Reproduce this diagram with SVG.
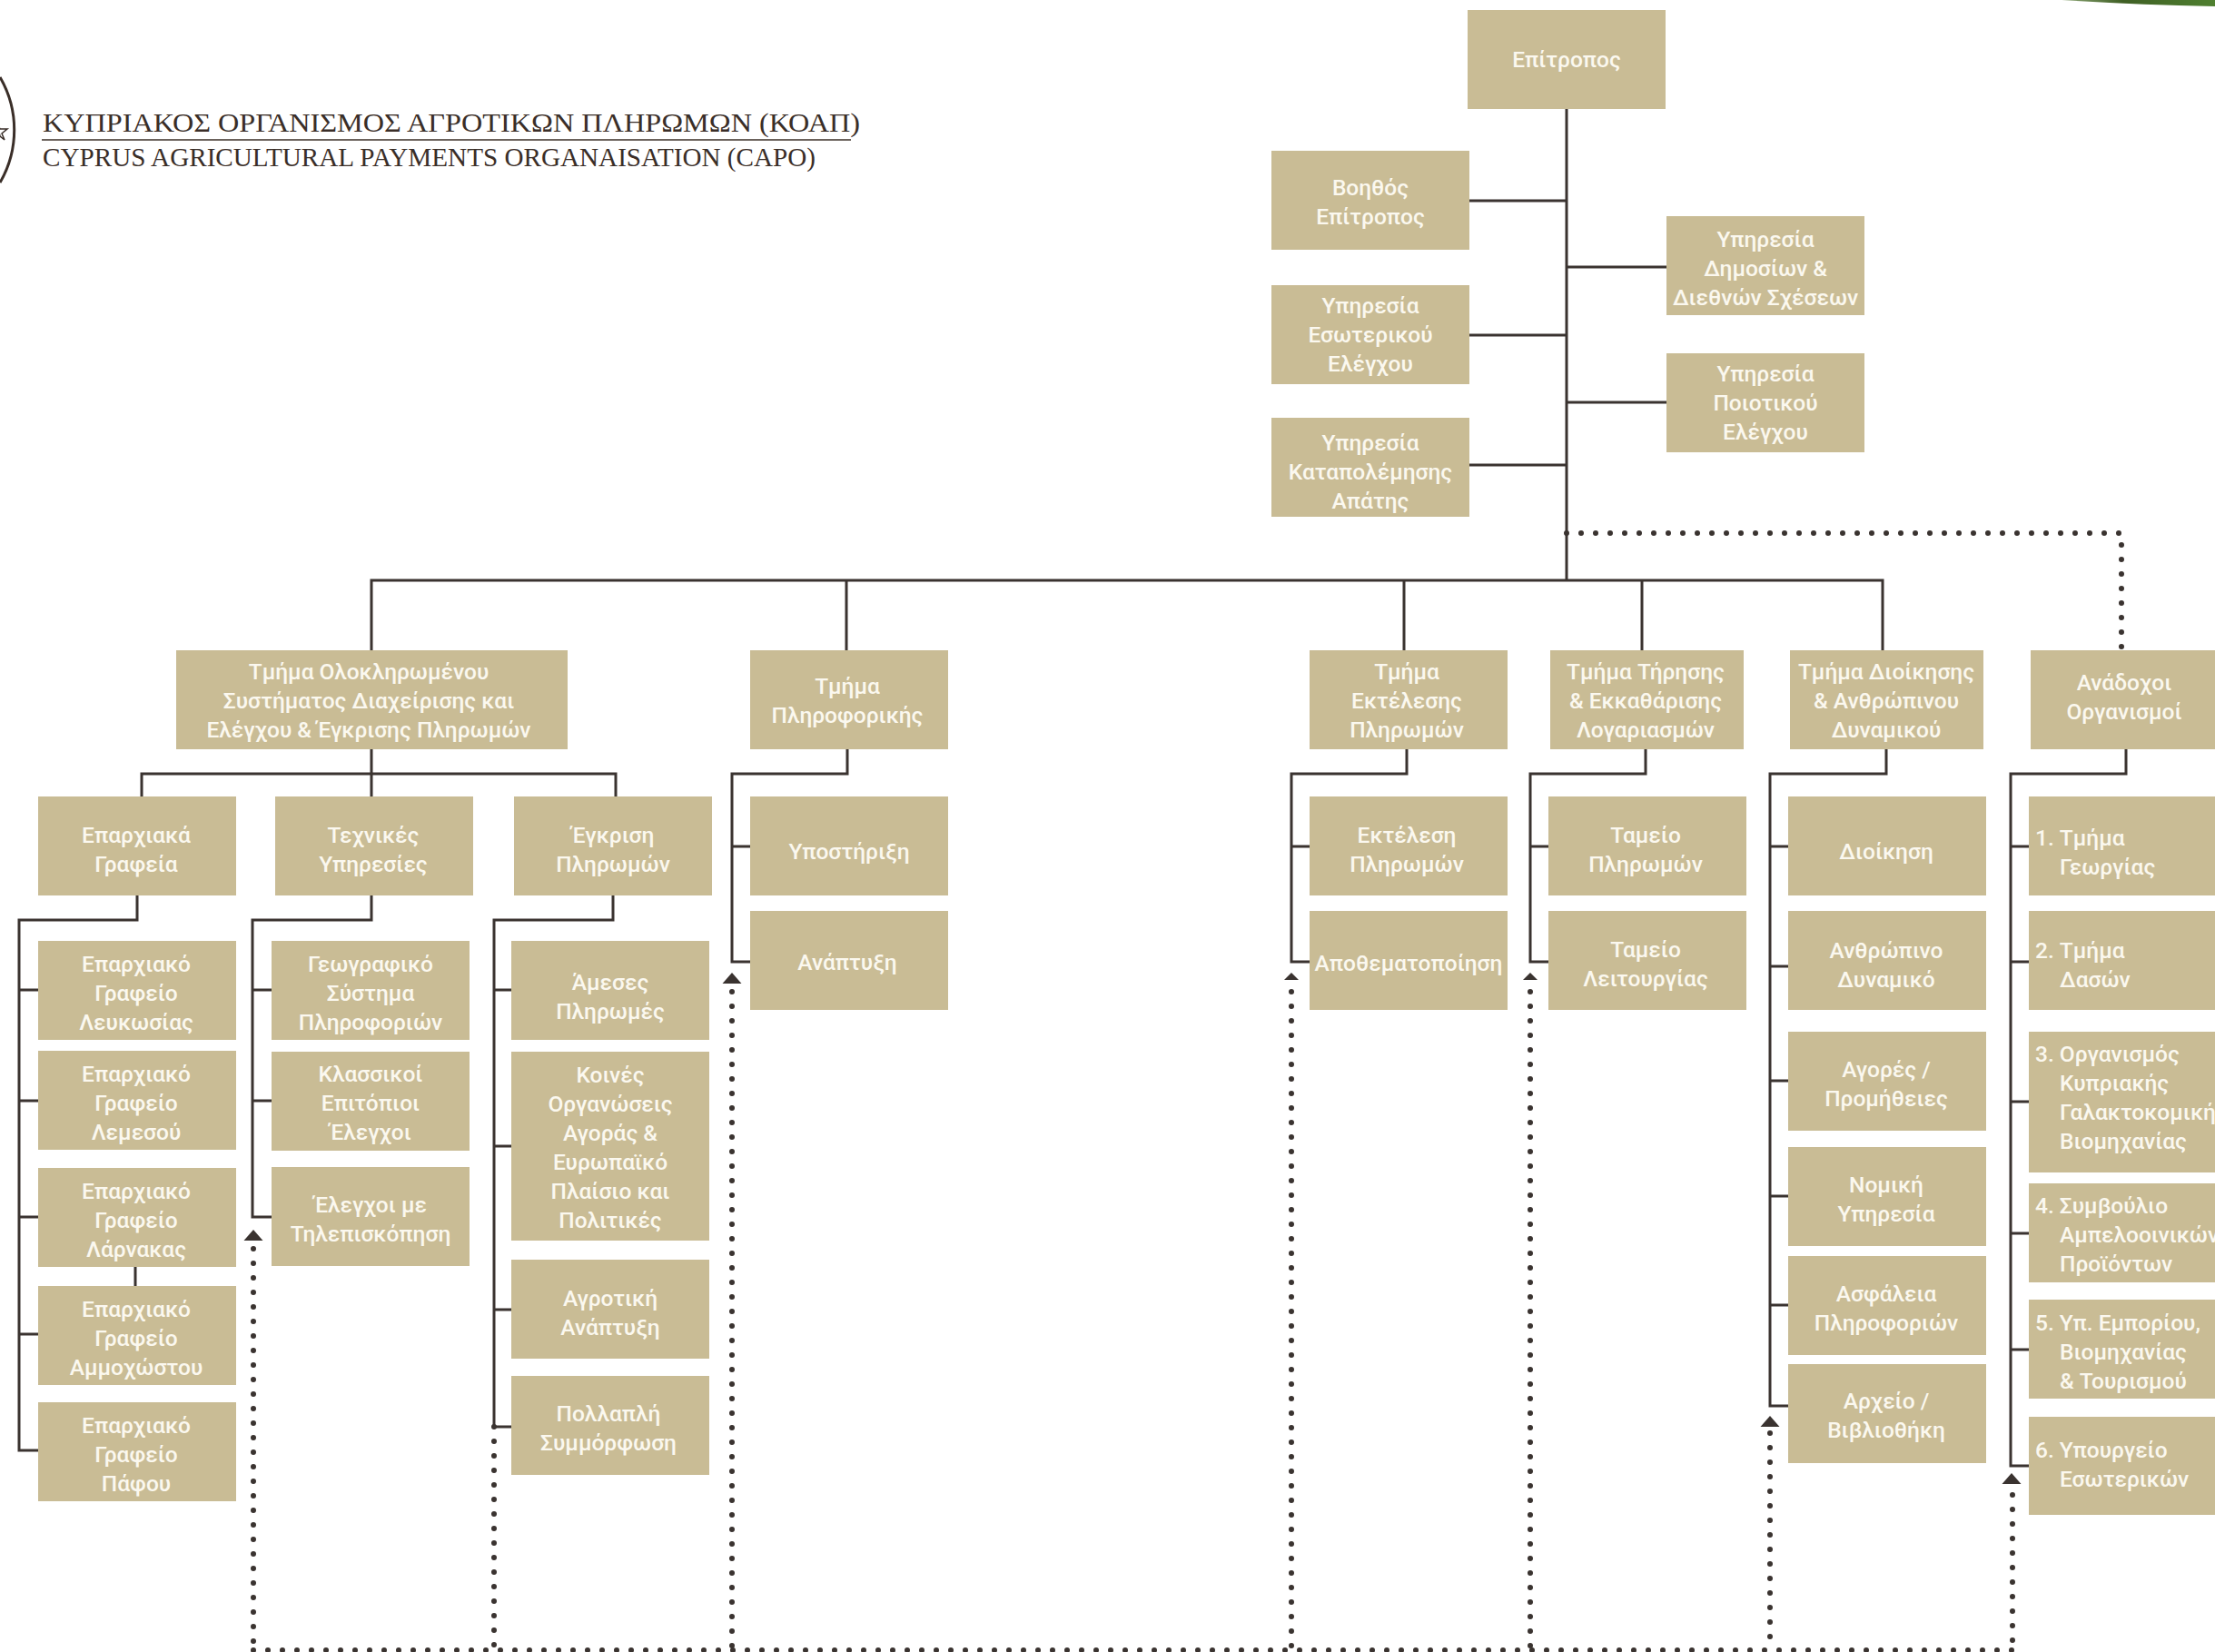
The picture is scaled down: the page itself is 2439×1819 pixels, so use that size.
<svg xmlns="http://www.w3.org/2000/svg" xmlns:xlink="http://www.w3.org/1999/xlink" width="2439" height="1819" viewBox="0 0 2439 1819">
<style>
.b{fill:#c9bc95}
.t{font-family:"Roboto","Liberation Sans",sans-serif;font-size:24.5px;font-weight:500;fill:#fbf8ef;text-anchor:middle}
.l{font-family:"Roboto","Liberation Sans",sans-serif;font-size:24.5px;font-weight:500;fill:#fbf8ef;text-anchor:start}
.s{fill:none;stroke:#3a3330;stroke-width:3}
.d{fill:none;stroke:#3a3330;stroke-width:6;stroke-linecap:round;stroke-dasharray:0 16}
.h{font-family:"Liberation Serif",serif;font-size:29px;fill:#3a2e28}
</style>
<defs>
<linearGradient id="grn" x1="0" x2="1" y1="0" y2="0"><stop offset="0" stop-color="#8fa878"/><stop offset="0.4" stop-color="#3f5f24"/><stop offset="1" stop-color="#4f8030"/></linearGradient>
<path id="ah" d="M0 -6 L10.5 6 L-10.5 6 Z" fill="#3a3330"/>
<path id="ah2" d="M0 -4 L8 4 L-8 4 Z" fill="#3a3330"/>
</defs>
<rect width="2439" height="1819" fill="#fff"/>
<g id="header">
<path d="M2270 0 L2439 0 L2439 7 Q2350 5 2270 0 Z" fill="url(#grn)"/>
<path d="M0 85 A115 115 0 0 1 0 201" fill="none" stroke="#3a2e28" stroke-width="3"/>
<path d="M-3 136 L0 142 L8 142 L2 147 L5 154 L0 150 Z" fill="none" stroke="#3a2e28" stroke-width="1.5"/>
<text class="h" x="47" y="145" textLength="900" lengthAdjust="spacingAndGlyphs">ΚΥΠΡΙΑΚΟΣ ΟΡΓΑΝΙΣΜΟΣ ΑΓΡΟΤΙΚΩΝ ΠΛΗΡΩΜΩΝ (ΚΟΑΠ)</text>
<line x1="46" y1="154" x2="937" y2="154" stroke="#6b625c" stroke-width="2"/>
<text class="h" x="47" y="183" textLength="851" lengthAdjust="spacingAndGlyphs">CYPRUS AGRICULTURAL PAYMENTS ORGANAISATION (CAPO)</text>
</g>
<g id="connectors">
<path class="s" d="M1725 120V639M1618 221H1725M1618 369H1725M1618 512H1725M1725 294H1835M1725 443H1835M409 716V639H2073V716M932 639V716M1546 639V716M1808 639V716"/>
<path class="s" d="M409 825V877M156 877V852H678V877"/>
<path class="s" d="M151 986V1013H21V1597H42M21 1090H42M21 1212H42M21 1340H42M21 1469H42M149 1395V1416"/>
<path class="s" d="M409 986V1013H278V1340H299M278 1090H299M278 1212H299"/>
<path class="s" d="M675 986V1013H544V1571H563M544 1090H563M544 1262H563M544 1442H563"/>
<path class="s" d="M933 825V852H806V1059H826M806 932H826"/>
<path class="s" d="M1549 825V852H1422V1059H1442M1422 932H1442"/>
<path class="s" d="M1812 825V852H1685V1059H1705M1685 932H1705"/>
<path class="s" d="M2077 825V852H1949V1548H1969M1949 932H1969M1949 1064H1969M1949 1190H1969M1949 1317H1969M1949 1437H1969"/>
<path class="s" d="M2341 825V852H2214V1614H2234M2214 932H2234M2214 1059H2234M2214 1213H2234M2214 1358H2234M2214 1486H2234"/>
<path class="d" d="M1725 587H2336V716"/>
<path class="d" d="M279 1817H2216"/>
<path class="d" d="M279 1375V1817"/>
<path class="d" d="M544 1571V1817"/>
<path class="d" d="M806 1092V1817"/>
<path class="d" d="M1422 1092V1817"/>
<path class="d" d="M1685 1092V1817"/>
<path class="d" d="M1949 1578V1817"/>
<path class="d" d="M2216 1646V1817"/>
<use xlink:href="#ah" x="279" y="1360"/>
<use xlink:href="#ah" x="806" y="1077"/>
<use xlink:href="#ah2" x="1422" y="1075"/>
<use xlink:href="#ah2" x="1685" y="1075"/>
<use xlink:href="#ah" x="1949" y="1565"/>
<use xlink:href="#ah" x="2215" y="1628"/>
</g>
<g id="n-epitropos"><rect class="b" x="1616" y="11" width="218" height="109"/><text class="t" y="74"><tspan x="1725">Επίτροπος</tspan></text></g>
<g id="n-voithos"><rect class="b" x="1400" y="166" width="218" height="109"/><text class="t" y="215"><tspan x="1509">Βοηθός</tspan><tspan x="1509" dy="32">Επίτροπος</tspan></text></g>
<g id="n-esoterikos"><rect class="b" x="1400" y="314" width="218" height="109"/><text class="t" y="345"><tspan x="1509">Υπηρεσία</tspan><tspan x="1509" dy="32">Εσωτερικού</tspan><tspan x="1509" dy="32">Ελέγχου</tspan></text></g>
<g id="n-apati"><rect class="b" x="1400" y="460" width="218" height="109"/><text class="t" y="496"><tspan x="1509">Υπηρεσία</tspan><tspan x="1509" dy="32">Καταπολέμησης</tspan><tspan x="1509" dy="32">Απάτης</tspan></text></g>
<g id="n-dimosion"><rect class="b" x="1835" y="238" width="218" height="109"/><text class="t" y="272"><tspan x="1944">Υπηρεσία</tspan><tspan x="1944" dy="32">Δημοσίων &amp;</tspan><tspan x="1944" dy="32">Διεθνών Σχέσεων</tspan></text></g>
<g id="n-poiotikou"><rect class="b" x="1835" y="389" width="218" height="109"/><text class="t" y="420"><tspan x="1944">Υπηρεσία</tspan><tspan x="1944" dy="32">Ποιοτικού</tspan><tspan x="1944" dy="32">Ελέγχου</tspan></text></g>
<g id="n-olokl"><rect class="b" x="194" y="716" width="431" height="109"/><text class="t" y="748"><tspan x="406">Τμήμα Ολοκληρωμένου</tspan><tspan x="406" dy="32">Συστήματος Διαχείρισης και</tspan><tspan x="406" dy="32">Ελέγχου &amp; Έγκρισης Πληρωμών</tspan></text></g>
<g id="n-plirof"><rect class="b" x="826" y="716" width="218" height="109"/><text class="t" y="764"><tspan x="933">Τμήμα</tspan><tspan x="933" dy="32">Πληροφορικής</tspan></text></g>
<g id="n-ektelesis"><rect class="b" x="1442" y="716" width="218" height="109"/><text class="t" y="748"><tspan x="1549">Τμήμα</tspan><tspan x="1549" dy="32">Εκτέλεσης</tspan><tspan x="1549" dy="32">Πληρωμών</tspan></text></g>
<g id="n-tirisis"><rect class="b" x="1707" y="716" width="213" height="109"/><text class="t" y="748"><tspan x="1812">Τμήμα Τήρησης</tspan><tspan x="1812" dy="32">&amp; Εκκαθάρισης</tspan><tspan x="1812" dy="32">Λογαριασμών</tspan></text></g>
<g id="n-dioikisis"><rect class="b" x="1971" y="716" width="213" height="109"/><text class="t" y="748"><tspan x="2077">Τμήμα Διοίκησης</tspan><tspan x="2077" dy="32">&amp; Ανθρώπινου</tspan><tspan x="2077" dy="32">Δυναμικού</tspan></text></g>
<g id="n-anadochoi"><rect class="b" x="2236" y="716" width="203" height="109"/><text class="t" y="760"><tspan x="2339">Ανάδοχοι</tspan><tspan x="2339" dy="32">Οργανισμοί</tspan></text></g>
<g id="n-eparchiaka"><rect class="b" x="42" y="877" width="218" height="109"/><text class="t" y="928"><tspan x="150">Επαρχιακά</tspan><tspan x="150" dy="32">Γραφεία</tspan></text></g>
<g id="n-technikes"><rect class="b" x="303" y="877" width="218" height="109"/><text class="t" y="928"><tspan x="411">Τεχνικές</tspan><tspan x="411" dy="32">Υπηρεσίες</tspan></text></g>
<g id="n-egkrisi"><rect class="b" x="566" y="877" width="218" height="109"/><text class="t" y="928"><tspan x="675">Έγκριση</tspan><tspan x="675" dy="32">Πληρωμών</tspan></text></g>
<g id="n-lefkosia"><rect class="b" x="42" y="1036" width="218" height="109"/><text class="t" y="1070"><tspan x="150">Επαρχιακό</tspan><tspan x="150" dy="32">Γραφείο</tspan><tspan x="150" dy="32">Λευκωσίας</tspan></text></g>
<g id="n-lemesos"><rect class="b" x="42" y="1157" width="218" height="109"/><text class="t" y="1191"><tspan x="150">Επαρχιακό</tspan><tspan x="150" dy="32">Γραφείο</tspan><tspan x="150" dy="32">Λεμεσού</tspan></text></g>
<g id="n-larnaka"><rect class="b" x="42" y="1286" width="218" height="109"/><text class="t" y="1320"><tspan x="150">Επαρχιακό</tspan><tspan x="150" dy="32">Γραφείο</tspan><tspan x="150" dy="32">Λάρνακας</tspan></text></g>
<g id="n-ammochostos"><rect class="b" x="42" y="1416" width="218" height="109"/><text class="t" y="1450"><tspan x="150">Επαρχιακό</tspan><tspan x="150" dy="32">Γραφείο</tspan><tspan x="150" dy="32">Αμμοχώστου</tspan></text></g>
<g id="n-pafos"><rect class="b" x="42" y="1544" width="218" height="109"/><text class="t" y="1578"><tspan x="150">Επαρχιακό</tspan><tspan x="150" dy="32">Γραφείο</tspan><tspan x="150" dy="32">Πάφου</tspan></text></g>
<g id="n-geo"><rect class="b" x="299" y="1036" width="218" height="109"/><text class="t" y="1070"><tspan x="408">Γεωγραφικό</tspan><tspan x="408" dy="32">Σύστημα</tspan><tspan x="408" dy="32">Πληροφοριών</tspan></text></g>
<g id="n-klassikoi"><rect class="b" x="299" y="1158" width="218" height="109"/><text class="t" y="1191"><tspan x="408">Κλασσικοί</tspan><tspan x="408" dy="32">Επιτόπιοι</tspan><tspan x="408" dy="32">Έλεγχοι</tspan></text></g>
<g id="n-tile"><rect class="b" x="299" y="1285" width="218" height="109"/><text class="t" y="1335"><tspan x="408">Έλεγχοι με</tspan><tspan x="408" dy="32">Τηλεπισκόπηση</tspan></text></g>
<g id="n-ameses"><rect class="b" x="563" y="1036" width="218" height="109"/><text class="t" y="1090"><tspan x="672">Άμεσες</tspan><tspan x="672" dy="32">Πληρωμές</tspan></text></g>
<g id="n-koines"><rect class="b" x="563" y="1158" width="218" height="208"/><text class="t" y="1192"><tspan x="672">Κοινές</tspan><tspan x="672" dy="32">Οργανώσεις</tspan><tspan x="672" dy="32">Αγοράς &amp;</tspan><tspan x="672" dy="32">Ευρωπαϊκό</tspan><tspan x="672" dy="32">Πλαίσιο και</tspan><tspan x="672" dy="32">Πολιτικές</tspan></text></g>
<g id="n-agrotiki"><rect class="b" x="563" y="1387" width="218" height="109"/><text class="t" y="1438"><tspan x="672">Αγροτική</tspan><tspan x="672" dy="32">Ανάπτυξη</tspan></text></g>
<g id="n-pollapli"><rect class="b" x="563" y="1515" width="218" height="109"/><text class="t" y="1565"><tspan x="670">Πολλαπλή</tspan><tspan x="670" dy="32">Συμμόρφωση</tspan></text></g>
<g id="n-ypostirixi"><rect class="b" x="826" y="877" width="218" height="109"/><text class="t" y="946"><tspan x="935">Υποστήριξη</tspan></text></g>
<g id="n-anaptyxi"><rect class="b" x="826" y="1003" width="218" height="109"/><text class="t" y="1068"><tspan x="933">Ανάπτυξη</tspan></text></g>
<g id="n-ektelesi"><rect class="b" x="1442" y="877" width="218" height="109"/><text class="t" y="928"><tspan x="1549">Εκτέλεση</tspan><tspan x="1549" dy="32">Πληρωμών</tspan></text></g>
<g id="n-apothema"><rect class="b" x="1442" y="1003" width="218" height="109"/><text class="t" y="1069"><tspan x="1551">Αποθεματοποίηση</tspan></text></g>
<g id="n-tameio1"><rect class="b" x="1705" y="877" width="218" height="109"/><text class="t" y="928"><tspan x="1812">Ταμείο</tspan><tspan x="1812" dy="32">Πληρωμών</tspan></text></g>
<g id="n-tameio2"><rect class="b" x="1705" y="1003" width="218" height="109"/><text class="t" y="1054"><tspan x="1812">Ταμείο</tspan><tspan x="1812" dy="32">Λειτουργίας</tspan></text></g>
<g id="n-dioikisi"><rect class="b" x="1969" y="877" width="218" height="109"/><text class="t" y="946"><tspan x="2077">Διοίκηση</tspan></text></g>
<g id="n-anthropino"><rect class="b" x="1969" y="1003" width="218" height="109"/><text class="t" y="1055"><tspan x="2077">Ανθρώπινο</tspan><tspan x="2077" dy="32">Δυναμικό</tspan></text></g>
<g id="n-agores"><rect class="b" x="1969" y="1136" width="218" height="109"/><text class="t" y="1186"><tspan x="2077">Αγορές /</tspan><tspan x="2077" dy="32">Προμήθειες</tspan></text></g>
<g id="n-nomiki"><rect class="b" x="1969" y="1263" width="218" height="109"/><text class="t" y="1313"><tspan x="2077">Νομική</tspan><tspan x="2077" dy="32">Υπηρεσία</tspan></text></g>
<g id="n-asfaleia"><rect class="b" x="1969" y="1383" width="218" height="109"/><text class="t" y="1433"><tspan x="2077">Ασφάλεια</tspan><tspan x="2077" dy="32">Πληροφοριών</tspan></text></g>
<g id="n-archeio"><rect class="b" x="1969" y="1502" width="218" height="109"/><text class="t" y="1551"><tspan x="2077">Αρχείο /</tspan><tspan x="2077" dy="32">Βιβλιοθήκη</tspan></text></g>
<g id="n-a1"><rect class="b" x="2234" y="877" width="205" height="109"/><text class="l" y="931"><tspan x="2241">1. Τμήμα</tspan><tspan x="2268" dy="32">Γεωργίας</tspan></text></g>
<g id="n-a2"><rect class="b" x="2234" y="1003" width="205" height="109"/><text class="l" y="1055"><tspan x="2241">2. Τμήμα</tspan><tspan x="2268" dy="32">Δασών</tspan></text></g>
<g id="n-a3"><rect class="b" x="2234" y="1136" width="205" height="155"/><text class="l" y="1169"><tspan x="2241">3. Οργανισμός</tspan><tspan x="2268" dy="32">Κυπριακής</tspan><tspan x="2268" dy="32">Γαλακτοκομικής</tspan><tspan x="2268" dy="32">Βιομηχανίας</tspan></text></g>
<g id="n-a4"><rect class="b" x="2234" y="1303" width="205" height="109"/><text class="l" y="1336"><tspan x="2241">4. Συμβούλιο</tspan><tspan x="2268" dy="32">Αμπελοοινικών</tspan><tspan x="2268" dy="32">Προϊόντων</tspan></text></g>
<g id="n-a5"><rect class="b" x="2234" y="1431" width="205" height="109"/><text class="l" y="1465"><tspan x="2241">5. Υπ. Εμπορίου,</tspan><tspan x="2268" dy="32">Βιομηχανίας</tspan><tspan x="2268" dy="32">&amp; Τουρισμού</tspan></text></g>
<g id="n-a6"><rect class="b" x="2234" y="1560" width="205" height="108"/><text class="l" y="1605"><tspan x="2241">6. Υπουργείο</tspan><tspan x="2268" dy="32">Εσωτερικών</tspan></text></g>
</svg>
